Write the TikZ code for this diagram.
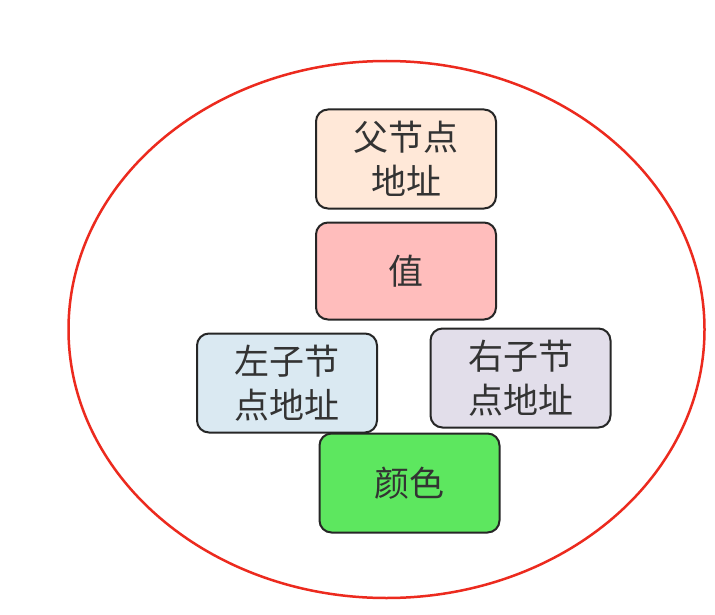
\documentclass[tikz,border=0pt]{standalone}
\usepackage{fontspec}
\usetikzlibrary{shapes.geometric}
\newfontfamily\cjk{Noto Sans CJK SC}
\definecolor{peach}{HTML}{FFE8D8}
\definecolor{pinkv}{HTML}{FFBDBC}
\definecolor{lblue}{HTML}{DAE9F2}
\definecolor{lav}{HTML}{E2DEEA}
\definecolor{grn}{HTML}{5DE75F}
\definecolor{txt}{HTML}{333333}
\definecolor{ring}{HTML}{EC2A1E}
\begin{document}
\begin{tikzpicture}[x=1pt,y=-1pt,
  field/.style={draw=black!85,line width=2pt,rounded corners=12pt,minimum width=180pt,minimum height=99pt,
    align=center,font=\cjk\fontsize{35}{44}\selectfont,text=txt,inner sep=0pt}]
\useasboundingbox (0,0) rectangle (715,615);
\fill[white] (0,0) rectangle (715,615);
\node[draw=ring,line width=2.5pt,ellipse,minimum width=636pt,minimum height=537pt,inner sep=0pt] (shell) at (386.5,329.5) {};
\node[field,fill=peach] (parent) at (406,159) {父节点\\地址};
\node[field,fill=pinkv,minimum height=97pt] (val) at (406,271) {值};
\node[field,fill=lblue] (left) at (287,383) {左子节\\点地址};
\node[field,fill=lav] (right) at (520.5,378) {右子节\\点地址};
\node[field,fill=grn] (color) at (409.5,483) {颜色};
\end{tikzpicture}
\end{document}
